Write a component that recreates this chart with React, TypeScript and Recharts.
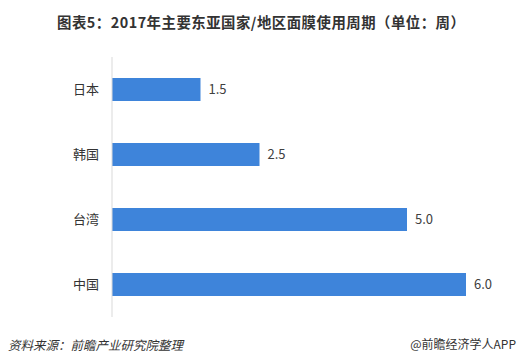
import React from "react";
import { BarChart, Bar, XAxis, YAxis, LabelList } from "recharts";

// 面膜使用周期（单位：周）
const regions = ["日本", "韩国", "台湾", "中国"];
const cycleWeeks = [1.5, 2.5, 5.0, 6.0];

const chartData = regions.map((name, i) => ({ name, weeks: cycleWeeks[i] }));

const FONT = "'Noto Sans CJK SC', 'Noto Sans', sans-serif";

export default function App() {
  return (
    <div
      style={{
        position: "absolute",
        left: 0,
        top: 0,
        width: 528,
        height: 363,
        background: "#fff",
        fontFamily: FONT,
        overflow: "hidden",
      }}
    >
      <div
        style={{
          position: "absolute",
          top: 11,
          left: 57,
          whiteSpace: "nowrap",
          fontSize: 14.4,
          fontWeight: 700,
          letterSpacing: 0.5,
          color: "#333",
          lineHeight: "22px",
        }}
      >
        图表5：2017年主要东亚国家/地区面膜使用周期（单位：周）
      </div>
      <BarChart
        width={528}
        height={363}
        data={chartData}
        layout="vertical"
        margin={{ top: 57, right: 3, bottom: 46, left: 0 }}
      >
        <XAxis type="number" domain={[0, 7]} hide />
        <YAxis
          type="category"
          dataKey="name"
          width={112}
          axisLine={{ stroke: "#d9d9d9" }}
          tickLine={false}
          tickSize={6}
          tickMargin={7}
          tick={{ fontSize: 13, fill: "#333", fontFamily: FONT }}
        />
        <Bar dataKey="weeks" fill="#3e84da" barSize={23} isAnimationActive={false}>
          <LabelList
            dataKey="weeks"
            position="right"
            offset={8}
            formatter={(v: number) => v.toFixed(1)}
            style={{ fontSize: 13, fill: "#404040", fontFamily: FONT }}
          />
        </Bar>
      </BarChart>
      <div
        style={{
          position: "absolute",
          left: 8,
          top: 335,
          fontSize: 12.5,
          fontStyle: "italic",
          color: "#333",
        }}
      >
        资料来源：前瞻产业研究院整理
      </div>
      <div
        style={{
          position: "absolute",
          right: 12,
          top: 335,
          fontSize: 12,
          color: "#333",
        }}
      >
        @前瞻经济学人APP
      </div>
    </div>
  );
}
